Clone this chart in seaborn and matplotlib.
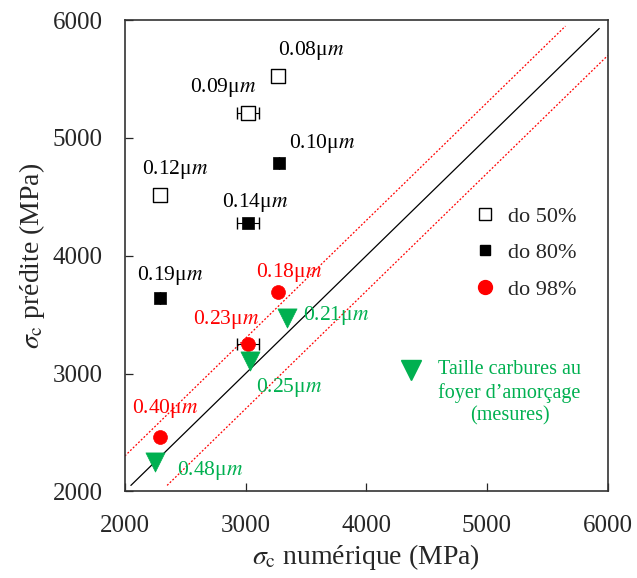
import numpy as np
import matplotlib
matplotlib.use("Agg")
import matplotlib.pyplot as plt
import matplotlib.lines as mlines
import seaborn as sns

# do 50% (open squares)
x50 = [3270, 3020, 2290]
y50 = [5530, 5215, 4515]
xerr50 = [0, 90, 0]
lab50 = ["0.08μ$m$", "0.09μ$m$", "0.12μ$m$"]
off50 = [(33, 25), (-25, 25), (15, 26)]

# do 80% (filled squares)
x80 = [3275, 3020, 2290]
y80 = [4790, 4275, 3640]
xerr80 = [0, 90, 0]
lab80 = ["0.10μ$m$", "0.14μ$m$", "0.19μ$m$"]
off80 = [(43, 19), (7, 21), (10, 23)]

# do 98% (red circles)
x98 = [3270, 3020, 2290]
y98 = [3690, 3255, 2460]
xerr98 = [0, 90, 0]
lab98 = ["0.18μ$m$", "0.23μ$m$", "0.40μ$m$"]
off98 = [(11, 20), (-22, 24), (5, 29)]

# measured carbide size (green triangles)
xm = [3345, 3040, 2250]
ym = [3475, 3110, 2245]
labm = ["0.21μ$m$", "0.25μ$m$", "0.48μ$m$"]
offm = [(49, 2), (39, -27), (55, -8)]

# reference lines
line_x = [2050, 5930]
upper_x = [2000, 5650]
lower_x = [2350, 6000]
band = 300

green = "#00B050"
red = "#FF0000"

sns.set_style("ticks")
plt.rcParams["font.family"] = ["Liberation Serif", "DejaVu Serif"]
plt.rcParams["mathtext.fontset"] = "stix"

fig = plt.figure(figsize=(6.37, 5.78), dpi=100)
ax = fig.add_axes([0.196, 0.15, 0.758, 0.815])

ax.plot(line_x, line_x, color="black", lw=0.9)
ax.plot(upper_x, np.array(upper_x) + band, color=red, lw=0.9, ls=(0, (1.5, 1.5)))
ax.plot(lower_x, np.array(lower_x) - band, color=red, lw=0.9, ls=(0, (1.5, 1.5)))

ax.errorbar(x50, y50, xerr=xerr50, fmt="none", ecolor="black", elinewidth=0.8, capsize=4)
ax.errorbar(x80, y80, xerr=xerr80, fmt="none", ecolor="black", elinewidth=0.8, capsize=4)
ax.errorbar(x98, y98, xerr=xerr98, fmt="none", ecolor="black", elinewidth=0.8, capsize=4)

sns.scatterplot(x=x50, y=y50, marker="s", s=90, facecolor="white", edgecolor="black",
                linewidth=1.0, ax=ax, zorder=3)
sns.scatterplot(x=x80, y=y80, marker="s", s=70, color="black", edgecolor="black",
                linewidth=0.5, ax=ax, zorder=3)
sns.scatterplot(x=x98, y=y98, marker="o", s=100, color=red, edgecolor=red,
                linewidth=0.5, ax=ax, zorder=3)
sns.scatterplot(x=xm, y=ym, marker="v", s=190, color=green, edgecolor=green,
                linewidth=0.5, ax=ax, zorder=3)

def label_points(xs, ys, labels, offsets, color):
    for xv, yv, t, (dx, dy) in zip(xs, ys, labels, offsets):
        ax.annotate(t, (xv, yv), xytext=(dx * 0.72, dy * 0.72), textcoords="offset points",
                    ha="center", va="center", fontsize=15.5, color=color)

label_points(x50, y50, lab50, off50, "black")
label_points(x80, y80, lab80, off80, "black")
label_points(x98, y98, lab98, off98, red)
label_points(xm, ym, labm, offm, green)

ax.set_xlim(2000, 6000)
ax.set_ylim(2000, 6000)
ax.set_xticks([2000, 3000, 4000, 5000, 6000])
ax.set_yticks([2000, 3000, 4000, 5000, 6000])
ax.tick_params(direction="in", length=6, width=0.9, labelsize=18)
ax.tick_params(axis="x", pad=17)
ax.tick_params(axis="y", pad=16)
for sp in ax.spines.values():
    sp.set_color("#333333")
    sp.set_linewidth(1.2)
    sp.set_visible(True)

ax.set_xlabel(r"$\sigma_{\rm c}$ numérique (MPa)", fontsize=20, labelpad=4)
ax.set_ylabel(r"$\sigma_{\rm c}$ prédite (MPa)", fontsize=20, labelpad=4)

h50 = mlines.Line2D([], [], ls="none", marker="s", ms=8.5, mfc="white", mec="black", mew=1.0)
h80 = mlines.Line2D([], [], ls="none", marker="s", ms=7.5, mfc="black", mec="black")
h98 = mlines.Line2D([], [], ls="none", marker="o", ms=10, mfc=red, mec=red)
leg1 = ax.legend([h50, h80, h98], ["do 50%", "do 80%", "do 98%"], loc="upper left",
                 bbox_to_anchor=(0.687, 0.648), frameon=False, fontsize=16,
                 handlelength=0.8, handletextpad=0.6, labelspacing=0.72)
ax.add_artist(leg1)

hm = mlines.Line2D([], [], ls="none", marker="v", ms=14, mfc=green, mec=green)
leg2 = ax.legend([hm], [""], loc="center", bbox_to_anchor=(0.592, 0.255),
                 frameon=False, handlelength=1.0, handletextpad=0, borderpad=0)
ax.text(0.797, 0.278, "Taille carbures au\nfoyer d’amorçage\n(mesures)", transform=ax.transAxes,
        ha="center", va="top", multialignment="center", fontsize=14.5, color=green,
        linespacing=1.25)

fig.savefig("out.png", dpi=100)
